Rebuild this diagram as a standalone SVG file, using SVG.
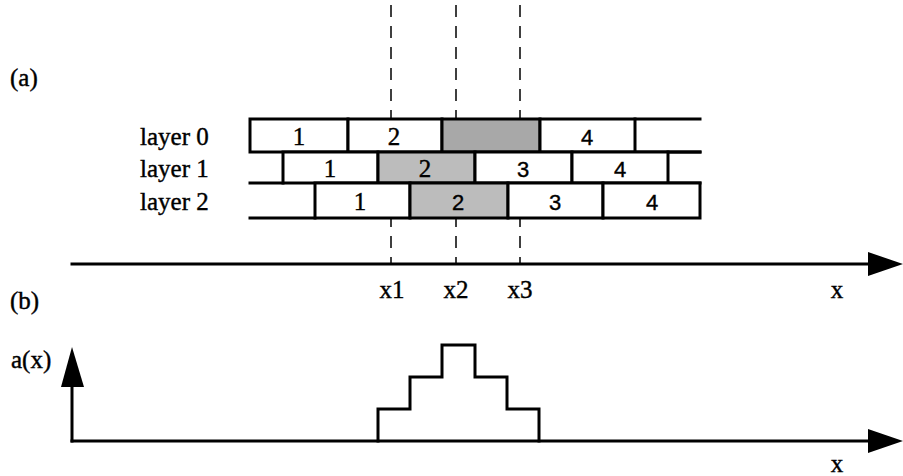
<svg xmlns="http://www.w3.org/2000/svg" width="903" height="476" viewBox="0 0 903 476">
<style>
.ln{stroke:#000;stroke-width:3;fill:none;stroke-linecap:square}
.box{stroke:#000;stroke-width:3;fill:#fff}
.sh{stroke:#000;stroke-width:3;fill:#bcbcbc}
.sh0{stroke:#000;stroke-width:3;fill:#a8a8a8}
.dash{stroke:#000;stroke-width:1.5;stroke-dasharray:12 9;fill:none}
.t{font-family:"Liberation Serif",serif;font-size:25px;fill:#000;stroke:#000;stroke-width:0.4}
.s{font-family:"Liberation Sans",sans-serif;font-size:22px;fill:#000;stroke:#000;stroke-width:0.4}
.n{text-anchor:middle}
</style>
<rect width="903" height="476" fill="#fff"/>
<text class="t" x="10" y="86">(a)</text>
<text class="t" x="10" y="309">(b)</text>
<g id="labels">
<text class="t" x="140" y="145">layer 0</text>
<text class="t" x="140" y="177">layer 1</text>
<text class="t" x="140" y="210">layer 2</text>
</g>
<g id="connectors">
<line class="dash" x1="391" y1="5" x2="391" y2="265"/>
<line class="dash" x1="456" y1="5" x2="456" y2="265"/>
<line class="dash" x1="520" y1="5" x2="520" y2="265"/>
<line class="ln" x1="72" y1="264" x2="870" y2="264"/>
<polygon points="868,252 903,264 868,276" fill="#000"/>
<line class="ln" x1="72" y1="441" x2="870" y2="441"/>
<polygon points="868,429 903,441 868,453" fill="#000"/>
<line class="ln" x1="72" y1="441" x2="72" y2="385"/>
<polygon points="61,387 72,347 84,387" fill="#000"/>
<polyline class="ln" points="378,441 378,409 410,409 410,377 442,377 442,345 475,345 475,377 507,377 507,409 539,409 539,441"/>
</g>
<g id="layer0">
<line class="ln" x1="635" y1="119" x2="700" y2="119"/>
<line class="ln" x1="635" y1="152" x2="700" y2="152"/>
<rect class="box" x="250" y="119" width="98" height="33"/>
<rect class="box" x="348" y="119" width="94" height="33"/>
<rect class="sh0" x="442" y="119" width="98" height="33"/>
<rect class="box" x="540" y="119" width="95" height="33"/>
<text class="t n" x="299" y="145">1</text>
<text class="t n" x="394" y="145">2</text>
<text class="s n" x="587" y="145">4</text>
</g>
<g id="layer1">
<line class="ln" x1="250" y1="183" x2="283" y2="183"/>
<line class="ln" x1="668" y1="152" x2="700" y2="152"/>
<line class="ln" x1="668" y1="183" x2="700" y2="183"/>
<rect class="box" x="283" y="152" width="95" height="31"/>
<rect class="sh" x="378" y="152" width="97" height="31"/>
<rect class="box" x="475" y="152" width="97" height="31"/>
<rect class="box" x="572" y="152" width="96" height="31"/>
<text class="t n" x="330" y="177">1</text>
<text class="t n" x="425" y="177">2</text>
<text class="s n" x="523" y="177">3</text>
<text class="s n" x="620" y="177">4</text>
</g>
<g id="layer2">
<line class="ln" x1="250" y1="218" x2="315" y2="218"/>
<rect class="box" x="315" y="183" width="95" height="35"/>
<rect class="sh" x="410" y="183" width="98" height="35"/>
<rect class="box" x="508" y="183" width="95" height="35"/>
<rect class="box" x="603" y="183" width="97" height="35"/>
<text class="t n" x="360" y="210">1</text>
<text class="s n" x="458" y="210">2</text>
<text class="s n" x="555" y="210">3</text>
<text class="s n" x="652" y="210">4</text>
</g>
<g id="axislabels">
<text class="t n" x="392" y="298">x1</text>
<text class="t n" x="456" y="298">x2</text>
<text class="t n" x="520" y="298">x3</text>
<text class="t n" x="837" y="298">x</text>
<text class="t" x="11" y="368">a(x)</text>
<text class="t n" x="837" y="472">x</text>
</g>
</svg>
